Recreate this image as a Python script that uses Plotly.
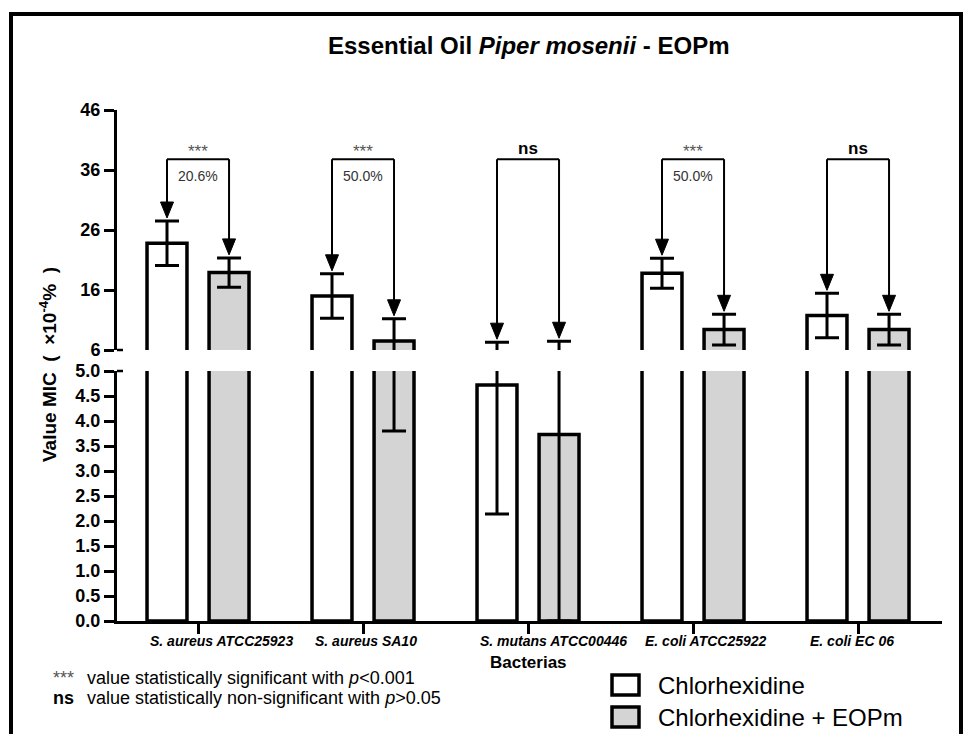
import plotly.graph_objects as go

# ---- data (MIC values, x10^-4 %) ----
bacteria = ["S. aureus ATCC25923", "S. aureus SA10", "S. mutans ATCC00446",
            "E. coli ATCC25922", "E. coli EC 06"]
chx_mean = [23.8, 15.0, 4.72, 18.8, 11.75]
chx_err = [3.7, 3.7, 2.58, 2.5, 3.7]
chx_eopm_mean = [18.9, 7.5, 3.73, 9.4, 9.4]
chx_eopm_err = [2.45, 3.7, 3.73, 2.55, 2.55]
significance = ["***", "***", "ns", "***", "ns"]
lower_ticks = [0.0, 0.5, 1.0, 1.5, 2.0, 2.5, 3.0, 3.5, 4.0, 4.5, 5.0]
upper_ticks = [6, 16, 26, 36, 46]
series_names = ["Chlorhexidine", "Chlorhexidine + EOPm"]

# ---- layout geometry (pixels) ----
FIG_W, FIG_H = 971, 734
L, R, T, B = 117, 942, 110, 621
LOWER_TOP_PX, UPPER_BOT_PX = 371, 350
LOWER_RANGE, UPPER_RANGE = [0, 5], [6, 46]
UPPER_PPU = (UPPER_BOT_PX - T) / (UPPER_RANGE[1] - UPPER_RANGE[0])
X_RANGE = [-0.491, 4.509]

BARGAP, BARGROUPGAP = 0.248, 0.356
OFF = (1 - BARGAP) / 4          # centre offset of each bar in a group
BRACKET_Y = 37.8                # height of the comparison brackets (upper axis units)

FONT = "Liberation Sans, Arial, sans-serif"
GREY = "#d4d4d4"


def fx(p):
    return (p - L) / (R - L)


def fy(p):
    return (B - p) / (B - T)


fig = go.Figure()
x = list(range(len(bacteria)))

for yax in ("y", "y2"):
    for name, mean, err, fill in [(series_names[0], chx_mean, chx_err, "white"),
                                  (series_names[1], chx_eopm_mean, chx_eopm_err, GREY)]:
        fig.add_bar(
            x=x, y=mean, name=name, yaxis=yax, showlegend=False,
            marker=dict(color=fill, line=dict(color="black", width=3.5)),
            error_y=dict(type="data", array=err, color="black", thickness=3, width=12),
            hoverinfo="skip",
        )

shapes = []
annotations = []

# comparison brackets with arrows
for i, sig in enumerate(significance):
    xl, xr = i - OFF, i + OFF
    tops = [chx_mean[i] + chx_err[i], chx_eopm_mean[i] + chx_eopm_err[i]]
    shapes.append(dict(type="line", xref="x", yref="y2", x0=xl, x1=xr,
                       y0=BRACKET_Y, y1=BRACKET_Y, line=dict(color="black", width=2)))
    for xv, top in zip([xl, xr], tops):
        shapes.append(dict(type="line", xref="x", yref="y2", x0=xv, x1=xv,
                           y0=BRACKET_Y, y1=top + 10 / UPPER_PPU,
                           line=dict(color="black", width=2)))
        shapes.append(dict(type="path", xref="x", yref="y2",
                           xsizemode="pixel", ysizemode="pixel",
                           xanchor=xv, yanchor=top,
                           path="M0,3 L-6.5,19 L6.5,19 Z",
                           fillcolor="black", line=dict(color="black", width=1)))
    if sig == "ns":
        annotations.append(dict(xref="x", yref="y2", x=i, y=BRACKET_Y, yshift=11,
                                text="<b>ns</b>", showarrow=False,
                                font=dict(family=FONT, size=17, color="black")))
    else:
        annotations.append(dict(xref="x", yref="y2", x=i, y=BRACKET_Y, yshift=8,
                                text=sig, showarrow=False,
                                font=dict(family=FONT, size=17, color="#555555")))
        pct = (1 - chx_eopm_mean[i] / chx_mean[i]) * 100
        annotations.append(dict(xref="x", yref="y2", x=i, y=BRACKET_Y, yshift=-17,
                                text=f"{pct:.1f}%", showarrow=False,
                                font=dict(family=FONT, size=14, color="#333333")))

# axis break end marks
for py in (UPPER_BOT_PX, LOWER_TOP_PX):
    shapes.append(dict(type="line", xref="paper", yref="paper", x0=fx(L), x1=fx(L + 6),
                       y0=fy(py), y1=fy(py), line=dict(color="black", width=2.5)))

# category labels
for i, name in enumerate(bacteria):
    annotations.append(dict(xref="x", yref="paper", x=i, y=fy(641), xanchor="left",
                            yanchor="middle", xshift=-50, text=f"<b><i>{name}</i></b>",
                            showarrow=False, font=dict(family=FONT, size=14, color="black")))
annotations.append(dict(xref="x", yref="paper", x=2, y=fy(662), yanchor="middle",
                        text="<b>Bacterias</b>", showarrow=False,
                        font=dict(family=FONT, size=17, color="black")))

# title and y title
annotations.append(dict(xref="paper", yref="paper", x=fx(528), y=fy(45), yanchor="middle",
                        text="<b>Essential Oil <i>Piper mosenii</i> - EOPm</b>", showarrow=False,
                        font=dict(family=FONT, size=24, color="black")))
annotations.append(dict(xref="paper", yref="paper", x=fx(48), y=fy(365), textangle=-90,
                        xanchor="center", yanchor="middle",
                        text="<b>Value MIC  (  ×10<sup>-4</sup>%  )</b>", showarrow=False,
                        font=dict(family=FONT, size=19, color="black")))

# footnotes
annotations += [
    dict(xref="paper", yref="paper", x=fx(51), y=fy(678), xanchor="left", yanchor="middle",
         text="***", showarrow=False, font=dict(family=FONT, size=18, color="#555555")),
    dict(xref="paper", yref="paper", x=fx(85), y=fy(678), xanchor="left", yanchor="middle",
         text="value statistically significant with <i>p</i>&lt;0.001", showarrow=False,
         font=dict(family=FONT, size=18, color="black")),
    dict(xref="paper", yref="paper", x=fx(51), y=fy(698), xanchor="left", yanchor="middle",
         text="<b>ns</b>", showarrow=False, font=dict(family=FONT, size=18, color="black")),
    dict(xref="paper", yref="paper", x=fx(85), y=fy(698), xanchor="left", yanchor="middle",
         text="value statistically non-significant with <i>p</i>&gt;0.05", showarrow=False,
         font=dict(family=FONT, size=18, color="black")),
]

# legend
for k, (name, fill) in enumerate(zip(series_names, ["white", GREY])):
    yc = 685 + 32 * k
    shapes.append(dict(type="rect", xref="paper", yref="paper",
                       x0=fx(612), x1=fx(639), y0=fy(yc + 10), y1=fy(yc - 10),
                       fillcolor=fill, line=dict(color="black", width=3.5)))
    annotations.append(dict(xref="paper", yref="paper", x=fx(656), y=fy(yc),
                            xanchor="left", yanchor="middle", text=name, showarrow=False,
                            font=dict(family=FONT, size=24, color="black")))

# outer frame
shapes.append(dict(type="rect", xref="paper", yref="paper", x0=fx(11), x1=fx(961),
                   y0=fy(745), y1=fy(14), line=dict(color="black", width=4)))

axis_common = dict(showgrid=False, zeroline=False, showline=True, linecolor="black",
                   linewidth=3, ticks="outside", ticklen=10, tickwidth=2.5, tickcolor="black")
tick_font = dict(family=FONT, size=18, color="black", weight="bold")

fig.update_layout(
    width=FIG_W, height=FIG_H,
    margin=dict(l=L, r=FIG_W - R, t=T, b=FIG_H - B),
    paper_bgcolor="white", plot_bgcolor="white",
    barmode="group", bargap=BARGAP, bargroupgap=BARGROUPGAP,
    xaxis=dict(range=X_RANGE, tickvals=x, showticklabels=False, anchor="y", **axis_common),
    yaxis=dict(domain=[0, fy(LOWER_TOP_PX)], range=LOWER_RANGE, tickvals=lower_ticks,
               ticktext=[f"{v:.1f}" for v in lower_ticks], anchor="x",
               tickfont=tick_font, **axis_common),
    yaxis2=dict(domain=[fy(UPPER_BOT_PX), 1], range=UPPER_RANGE, tickvals=upper_ticks,
                ticktext=[str(v) for v in upper_ticks], anchor="x",
                tickfont=tick_font, **axis_common),
    shapes=shapes, annotations=annotations,
    showlegend=False,
)

fig.write_html("out.html")
